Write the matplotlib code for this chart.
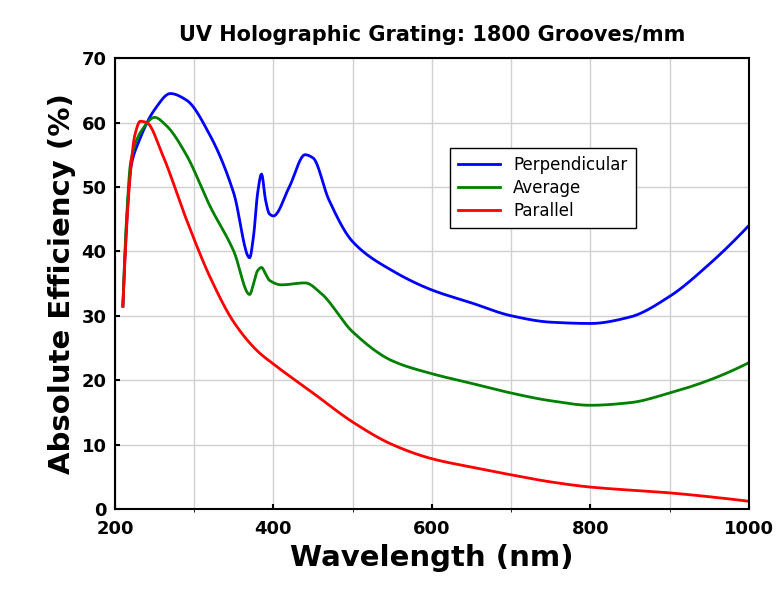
import matplotlib
matplotlib.use("Agg")
import matplotlib.pyplot as plt
import numpy as np

perp_x = [210,215,220,230,250,270,290,320,350,370,375,380,385,390,395,400,420,440,450,470,500,550,600,650,700,750,800,850,900,950,1000]
perp_y = [31.5,45,53,57,62,64.5,63.5,58,49,39,42.5,49,52,48,45.8,45.5,50,55,54.5,48,41.5,37,34,32,30,29,28.8,29.8,33,38,44]
avg_x = [210,215,220,235,250,265,290,320,350,370,375,380,385,390,395,410,440,460,500,550,600,650,700,750,800,850,900,950,1000]
avg_y = [31.5,46,54,59,60.8,59.5,55,47,40,33.3,35,37,37.5,36.5,35.5,34.8,35.1,33.5,27.5,23,21,19.5,18,16.8,16.1,16.5,18,20,22.7]
par_x = [210,214,218,225,232,240,260,290,320,350,380,400,450,500,550,600,650,700,750,800,900,1000]
par_y = [31.5,42,50,58,60.2,60,55,45,36,29,24.5,22.5,18,13.5,10,7.8,6.5,5.3,4.2,3.4,2.5,1.2]

def smooth(x, y):
    try:
        from scipy.interpolate import PchipInterpolator
        xs = np.linspace(min(x), max(x), 800)
        return xs, PchipInterpolator(x, y)(xs)
    except Exception:
        return x, y

fig = plt.figure(figsize=(7.8,5.93), dpi=100)
ax = fig.add_axes([0.1474,0.1417,0.8126,0.7603])
ax.plot(*smooth(perp_x, perp_y), color='#0000ff', lw=2, label='Perpendicular')
ax.plot(*smooth(avg_x, avg_y), color='#008000', lw=2, label='Average')
ax.plot(*smooth(par_x, par_y), color='#ff0000', lw=2, label='Parallel')
ax.set_xlim(200,1000); ax.set_ylim(0,70)
ax.set_xticks(range(200,1001,200)); ax.set_xticks(range(300,1000,200), minor=True)
ax.set_yticks(range(0,71,10))
ax.grid(True, which='both', color='#d0d0d0', lw=1)
ax.tick_params(labelsize=13, direction='in', width=1.5)
ax.tick_params(axis='x', pad=8)
ax.tick_params(axis='y', pad=6)
for l in ax.get_xticklabels()+ax.get_yticklabels(): l.set_fontweight('bold')
for s in ax.spines.values(): s.set_linewidth(1.5)
ax.set_xlabel('Wavelength (nm)', fontsize=21, fontweight='bold', labelpad=4)
ax.set_ylabel('Absolute Efficiency (%)', fontsize=21, fontweight='bold', labelpad=4)
ax.set_title('UV Holographic Grating: 1800 Grooves/mm', fontsize=15, fontweight='bold', pad=12)
leg = ax.legend(loc='upper left', bbox_to_anchor=(0.515,0.82), fontsize=12, fancybox=False, framealpha=1,
                edgecolor='black', handlelength=2.5, borderpad=0.5, labelspacing=0.3)
fig.savefig('out.png')
